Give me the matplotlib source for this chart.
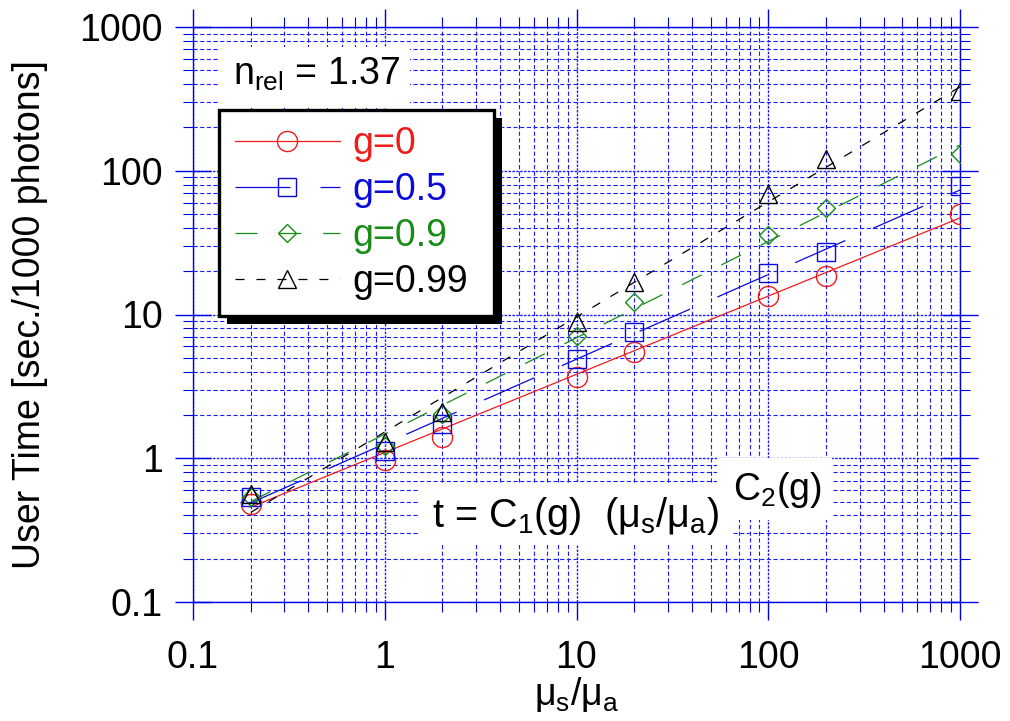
import matplotlib
matplotlib.use('Agg')
import matplotlib.pyplot as plt
import numpy as np
from matplotlib.lines import Line2D
from matplotlib.patches import Rectangle
from matplotlib.transforms import IdentityTransform
from matplotlib.ticker import FixedLocator, FixedFormatter, LogLocator, NullFormatter

BLUE_AX = '#0000e6'
GRID_C = '#1a1aff'
plt.rcParams['font.family'] = ['Liberation Sans', 'DejaVu Sans']
plt.rcParams['mathtext.fontset'] = 'custom'
plt.rcParams['mathtext.rm'] = 'Liberation Sans'
plt.rcParams['mathtext.it'] = 'Liberation Sans:italic'
plt.rcParams['mathtext.default'] = 'regular'
plt.rcParams['lines.scale_dashes'] = False
plt.rcParams['grid.color'] = GRID_C
plt.rcParams['grid.alpha'] = 1.0

# ---------------- data ----------------
ratio = [0.2, 1, 2, 10, 20, 100, 200, 1000]
t_g0 = [0.48, 0.97, 1.41, 3.67, 5.48, 13.5, 18.5, 50]
t_g05 = [0.535, 1.13, 1.72, 4.9, 7.6, 19.5, 27, 78]
t_g09 = [0.54, 1.22, 2.03, 7.1, 12.2, 36, 55, 131]
t_g099 = [0.56, 1.29, 2.1, 8.8, 16.9, 69, 120, 357]

fit_x = [0.2, 1000]
fit_g0 = [0.457, 47]
fit_g05 = [0.489, 73.5]
fit_g09 = [0.50, 151]
fit_g099 = [0.42, 383]

series_labels = ['g=0', 'g=0.5', 'g=0.9', 'g=0.99']
tick_vals = [0.1, 1, 10, 100, 1000]
tick_labels = ['0.1', '1', '10', '100', '1000']

# ---------------- style ----------------
W, H = 1010, 721
colors = ['#f01c1c', '#0a0adc', '#178c17', '#000000']
markers = ['o', 's', 'D', '^']
msizes = [14.5, 13, 9.6, 13.5]
styles = ['-', (0, (39.6, 21.6)), (0, (15.8, 15.8)), (0, (6.5, 8.6))]
FS = 27


def fx(px):
    return px / W


def fy(py):
    return (H - py) / H


fig = plt.figure(figsize=(W / 100, H / 100), dpi=100)
ax = fig.add_axes([fx(193), fy(602), (960 - 193) / W, (602 - 27) / H])
ax.set_xscale('log')
ax.set_yscale('log')
ax.set_xlim(0.1, 1000)
ax.set_ylim(0.1, 1000)

meas = [t_g0, t_g05, t_g09, t_g099]
fits = [fit_g0, fit_g05, fit_g09, fit_g099]
handles = []
for yv, fv, c, m, ms, ls, lab in zip(meas, fits, colors, markers, msizes, styles, series_labels):
    ax.plot(fit_x, fv, color=c, lw=0.9, linestyle=ls, zorder=3)
    ax.plot(ratio, yv, linestyle='none', marker=m, ms=ms, mfc='none', mec=c, mew=1.0, zorder=4)
    handles.append(Line2D([], [], color=c, lw=0.9, linestyle=ls, marker=m, ms=ms,
                          mfc='none', mec=c, mew=1.0))

# ticks
for axis in (ax.xaxis, ax.yaxis):
    axis.set_major_locator(FixedLocator(tick_vals))
    axis.set_major_formatter(FixedFormatter(tick_labels))
    axis.set_minor_locator(LogLocator(base=10, subs=np.arange(2, 10), numticks=20))
    axis.set_minor_formatter(NullFormatter())

ax.tick_params(axis='x', which='major', direction='out', length=13, width=1.0,
               color=BLUE_AX, top=True, bottom=True, pad=14, labelsize=FS)
ax.tick_params(axis='x', which='minor', direction='out', length=7.2, width=0.8,
               color=BLUE_AX, top=True, bottom=True)
ax.tick_params(axis='y', which='major', direction='inout', length=26, width=1.0,
               color=BLUE_AX, left=True, right=True, pad=8.6, labelsize=FS)
ax.tick_params(axis='y', which='minor', direction='out', length=7.2, width=0.8,
               color=BLUE_AX, left=True, right=True)
for sp in ax.spines.values():
    sp.set_color(BLUE_AX)
    sp.set_linewidth(1.0)

ax.grid(True, which='major', color=GRID_C, linestyle=(0, (1.8, 1.0)), linewidth=1.0)
ax.grid(True, which='minor', color=GRID_C, linestyle=(0, (3.0, 1.8)), linewidth=0.8)
ax.tick_params(which='both', grid_color=GRID_C, grid_alpha=1.0)

# labels
ax.set_ylabel('User Time [sec./1000 photons]', fontsize=FS, va='center')
ax.yaxis.set_label_coords((30 - 193) / (960 - 193), 0.5)
ax.set_xlabel('μ$_s$/μ$_a$', fontsize=FS, va='top')
ax.xaxis.set_label_coords(0.5, (602 - 675) / (602 - 27))

# white boxes behind annotations
for (x0, y0, x1, y1) in [(218, 47, 410, 108), (420, 483, 733, 545), (717, 458, 832, 520)]:
    ax.add_patch(Rectangle((fx(x0), fy(y1)), (x1 - x0) / W, (y1 - y0) / H,
                           transform=fig.transFigure, facecolor='white',
                           edgecolor='none', zorder=1.8))

ax.text(fx(233), fy(85), 'n$_{rel}$ = 1.37', transform=fig.transFigure,
        fontsize=FS, va='baseline', ha='left', zorder=6)
ax.text(fx(432), fy(527), 't = C$_1$(g)  (μ$_s$/μ$_a$)', transform=fig.transFigure,
        fontsize=28.5, va='baseline', ha='left', zorder=6)
ax.text(fx(733), fy(500), 'C$_2$(g)', transform=fig.transFigure,
        fontsize=FS, va='baseline', ha='left', zorder=6)

# legend
leg = ax.legend(handles, series_labels, loc='upper left',
                bbox_to_anchor=(fx(219), fy(317), (494 - 219) / W, (317 - 110) / H),
                bbox_transform=fig.transFigure, mode='expand', borderaxespad=0,
                fontsize=FS, handlelength=2.8, handletextpad=0.35, borderpad=0.42,
                labelspacing=0.27, frameon=True, fancybox=False, framealpha=1,
                edgecolor='black', numpoints=1)
leg.get_frame().set_linewidth(2.4)
for txt, c in zip(leg.get_texts(), colors):
    txt.set_color(c)
leg.set_zorder(10)

fig.canvas.draw()
bb = leg.get_window_extent()
shadow = Rectangle((bb.x0 + 8, bb.y0 - 8), bb.width, bb.height, transform=IdentityTransform(),
                   facecolor='black', edgecolor='none', zorder=9, clip_on=False)
ax.add_patch(shadow)

fig.savefig('out.png', dpi=100)
